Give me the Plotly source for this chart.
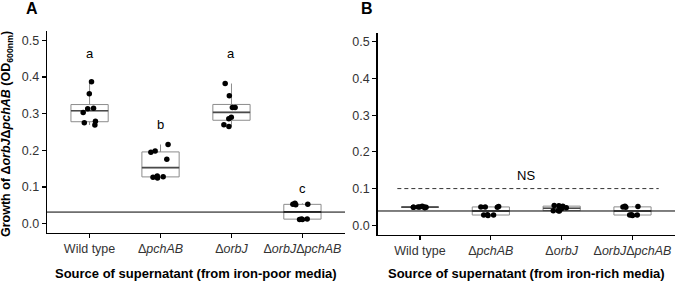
import numpy as np
import plotly.graph_objects as go

# ---------------- data ----------------
categories = ["Wild type", "ΔpchAB", "ΔorbJ", "ΔorbJΔpchAB"]
tick_labels = ["Wild type", "Δ<i>pchAB</i>", "Δ<i>orbJ</i>", "Δ<i>orbJ</i>Δ<i>pchAB</i>"]

# iron-poor supernatant (panel A)
poor_wt = [0.387, 0.354, 0.315, 0.313, 0.303, 0.279, 0.275, 0.269]
poor_pchab = [0.216, 0.198, 0.195, 0.176, 0.130, 0.128, 0.127, 0.125]
poor_orbj = [0.382, 0.349, 0.317, 0.317, 0.290, 0.286, 0.270, 0.265]
poor_double = [0.056, 0.053, 0.053, 0.052, 0.013, 0.013, 0.012, 0.012]

# iron-rich supernatant (panel B)
rich_wt = [0.052, 0.050, 0.050, 0.050, 0.049, 0.049, 0.049, 0.048]
rich_pchab = [0.051, 0.050, 0.050, 0.049, 0.029, 0.028, 0.028, 0.027]
rich_orbj = [0.054, 0.053, 0.052, 0.048, 0.045, 0.040, 0.040, 0.039]
rich_double = [0.052, 0.051, 0.050, 0.049, 0.029, 0.028, 0.028, 0.027]

sig_letters = ["a", "b", "a", "c"]
sig_y = [0.465, 0.270, 0.465, 0.095]

baseline_poor = 0.032
baseline_rich = 0.039
ns_label = "NS"
ns_y = 0.135
ns_line_y = 0.1
ns_line_x = [-0.32, 3.37]

y_ticks = [0.0, 0.1, 0.2, 0.3, 0.4, 0.5]

# ---------------- helpers ----------------
def box_stats(v):
    v = np.sort(np.asarray(v, dtype=float))
    q1, med, q3 = np.percentile(v, [25, 50, 75])
    iqr = q3 - q1
    lo = v[v >= q1 - 1.5 * iqr].min()
    hi = v[v <= q3 + 1.5 * iqr].max()
    return q1, med, q3, lo, hi


FONT = "Liberation Sans, Arial, sans-serif"
BOX_COL = "#8c8c8c"
MED_COL = "#4a4a4a"

fig = go.Figure()


def add_panel(groups, xa, ya):
    st = [box_stats(g) for g in groups]
    q1 = [s[0] for s in st]
    med = [s[1] for s in st]
    q3 = [s[2] for s in st]
    lo = [s[3] for s in st]
    hi = [s[4] for s in st]
    # box outline
    fig.add_trace(go.Box(
        x=categories, q1=q1, median=med, q3=q3, lowerfence=lo, upperfence=hi,
        fillcolor="white", line=dict(color=BOX_COL, width=1), whiskerwidth=0,
        boxpoints=False, xaxis=xa, yaxis=ya, showlegend=False, hoverinfo="skip",
    ))
    # thicker median line
    fig.add_trace(go.Box(
        x=categories, q1=med, median=med, q3=med, lowerfence=med, upperfence=med,
        fillcolor="rgba(0,0,0,0)", line=dict(color=MED_COL, width=1.6), whiskerwidth=0,
        boxpoints=False, xaxis=xa, yaxis=ya, showlegend=False, hoverinfo="skip",
    ))
    # jittered sample points
    fig.add_trace(go.Box(
        x=categories, y=[list(g) for g in groups],
        q1=q1, median=med, q3=q3, lowerfence=lo, upperfence=hi,
        fillcolor="rgba(0,0,0,0)", line=dict(color="rgba(0,0,0,0)", width=0),
        whiskerwidth=0, boxpoints="all", jitter=0.55, pointpos=0,
        marker=dict(color="black", size=5.5),
        xaxis=xa, yaxis=ya, showlegend=False, hoverinfo="skip",
    ))


add_panel([poor_wt, poor_pchab, poor_orbj, poor_double], "x", "y")
add_panel([rich_wt, rich_pchab, rich_orbj, rich_double], "x2", "y2")

W, H = 680, 285

def px(xpix):
    return xpix / W

def py(ypix):
    return 1 - ypix / H

axis_common = dict(
    showline=True, linecolor="black", linewidth=1.4, ticks="outside", ticklen=4,
    tickwidth=1.2, tickcolor="black", showgrid=False, zeroline=False,
    tickfont=dict(family=FONT, size=12.5, color="#333333"), automargin=False,
)

xa_common = dict(axis_common, type="category", categoryorder="array",
                 categoryarray=categories, tickmode="array", tickvals=categories,
                 ticktext=tick_labels, range=[-0.6, 3.6])
ya_common = dict(axis_common, range=[-0.025, 0.525], tickvals=y_ticks,
                 tickformat=".1f")

fig.update_layout(
    width=W, height=H,
    margin=dict(l=0, r=0, t=0, b=0),
    paper_bgcolor="white", plot_bgcolor="white",
    boxmode="overlay", boxgap=0.25,
    font=dict(family=FONT, color="black"),
    xaxis=dict(xa_common, domain=[px(47), px(345)], anchor="y"),
    yaxis=dict(ya_common, domain=[py(233), py(31)], anchor="x"),
    xaxis2=dict(xa_common, domain=[px(377.5), px(675)], anchor="y2"),
    yaxis2=dict(ya_common, domain=[py(234.5), py(32.5)], anchor="x2"),
)

# reference lines
fig.add_shape(type="line", xref="x domain", yref="y", x0=0, x1=1,
              y0=baseline_poor, y1=baseline_poor, line=dict(color="black", width=1))
fig.add_shape(type="line", xref="x2 domain", yref="y2", x0=0, x1=1,
              y0=baseline_rich, y1=baseline_rich, line=dict(color="black", width=1))
fig.add_shape(type="line", xref="x2", yref="y2", x0=ns_line_x[0], x1=ns_line_x[1],
              y0=ns_line_y, y1=ns_line_y, line=dict(color="#333333", width=1, dash="4px,3px"))

# significance letters
for c, lab, yv in zip(categories, sig_letters, sig_y):
    fig.add_annotation(x=c, y=yv, xref="x", yref="y", text=lab, showarrow=False,
                       font=dict(family=FONT, size=13, color="black"))
fig.add_annotation(x=1.5, y=ns_y, xref="x2", yref="y2", text=ns_label, showarrow=False,
                   font=dict(family=FONT, size=13, color="black"))

def paper_text(xp, yp, text, size, angle=0):
    fig.add_annotation(x=px(xp), y=py(yp), xref="paper", yref="paper", showarrow=False,
                       xanchor="center", yanchor="middle", textangle=angle,
                       text=text, font=dict(family=FONT, size=size, color="black"))

# axis titles
paper_text(196, 273, "<b>Source of supernatant (from iron-poor media)</b>", 13)
paper_text(526, 273, "<b>Source of supernatant (from iron-rich media)</b>", 13)
paper_text(7, 134, "<b>Growth of Δ<i>orbJ</i>Δ<i>pchAB</i> (OD<sub>600nm</sub>)</b>", 12.5, -90)

# panel labels
paper_text(32, 9, "<b>A</b>", 16)
paper_text(367, 9, "<b>B</b>", 16)

fig.write_html("out.html",
               config={"displayModeBar": False, "staticPlot": True},
               post_script="document.body.style.margin='0';document.body.style.overflow='hidden';")
